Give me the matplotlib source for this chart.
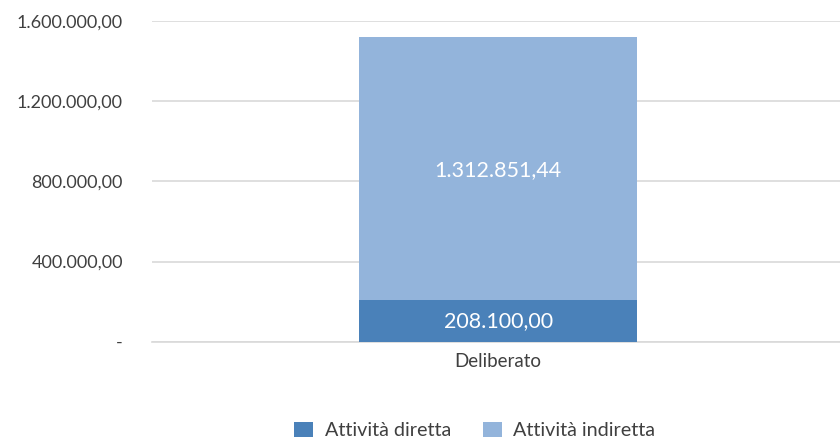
import numpy as np
import matplotlib.pyplot as plt

plt.rcParams['font.family'] = ['Lato', 'DejaVu Sans']

categories = ["Deliberato"]
diretta = [208100.00]
indiretta = [1312851.44]
series_names = ["Attività diretta", "Attività indiretta"]
yticks = [0, 400000, 800000, 1200000, 1600000]
ytick_labels = ["-", "400.000,00", "800.000,00", "1.200.000,00", "1.600.000,00"]

col_dir = "#4a81b9"
col_ind = "#93b4db"


def fmt_it(v):
    s = "{:,.2f}".format(v)
    return s.replace(",", "X").replace(".", ",").replace("X", ".")


fig = plt.figure(figsize=(8.4, 4.41), dpi=100)
ax = fig.add_axes([0.181, 0.225, 0.819, 0.728])

x = np.arange(len(categories))
b1 = ax.bar(x, diretta, width=0.404, color=col_dir, label=series_names[0], zorder=3)
b2 = ax.bar(x, indiretta, width=0.404, bottom=diretta, color=col_ind,
            label=series_names[1], zorder=3)

for i in range(len(categories)):
    ax.text(x[i], diretta[i] / 2, fmt_it(diretta[i]), ha="center", va="center",
            color="white", fontsize=15.5, zorder=4)
    ax.text(x[i], diretta[i] + indiretta[i] / 2 - 10000, fmt_it(indiretta[i]),
            ha="center", va="center", color="white", fontsize=15.5, zorder=4)

ax.set_xlim(-0.503, 0.497)
ax.set_ylim(0, 1600000)
ax.set_yticks(yticks)
ax.set_yticklabels(ytick_labels, fontsize=13, color="#404040")
ax.set_xticks(x)
ax.set_xticklabels(categories, fontsize=13.5, color="#404040")
ax.tick_params(axis="y", length=0, pad=21)
ax.tick_params(axis="x", length=0, pad=8)
ax.grid(axis="y", color="#d9d9d9", linewidth=1.2, zorder=0)
for side in ["top", "right", "left"]:
    ax.spines[side].set_visible(False)
ax.spines["bottom"].set_color("#d9d9d9")
ax.spines["bottom"].set_linewidth(1.2)

fig.legend(handles=[b1, b2], labels=series_names, loc="center",
           bbox_to_anchor=(0.565, 0.024), ncol=2, frameon=False, fontsize=14.2,
           handlelength=1.0, handleheight=0.8, handletextpad=0.57, columnspacing=1.6,
           labelcolor="#404040", borderpad=0)

fig.savefig("out.png", dpi=100)
